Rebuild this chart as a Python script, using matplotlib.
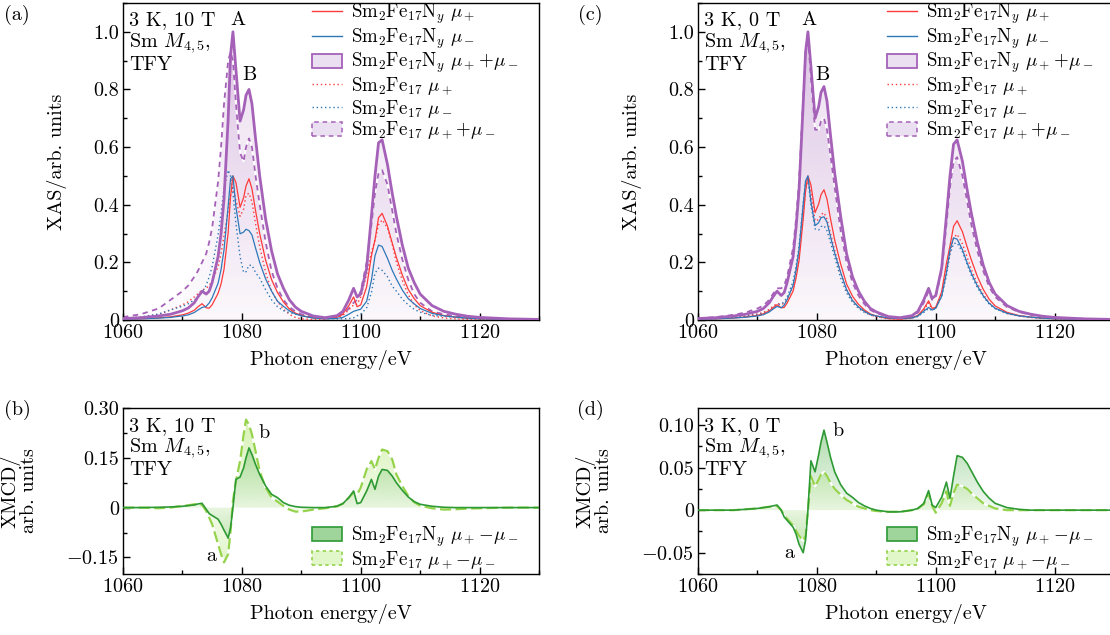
import matplotlib

matplotlib.use("Agg")
import matplotlib.pyplot as plt
import numpy as np
from matplotlib.colors import to_rgb
from matplotlib.lines import Line2D
from matplotlib.patches import Patch, PathPatch
from matplotlib.ticker import MultipleLocator

FS = 14.5     # axes text
LFS = 13.6    # legend text
plt.rcParams.update({
    "font.family": "serif",
    "font.serif": ["cmr10"],
    "mathtext.fontset": "cm",
    "axes.unicode_minus": False,
    "axes.formatter.use_mathtext": True,
    "font.size": FS,
})

# photon energy grid (eV), shared by every curve
energy = [1060, 1063, 1066, 1068, 1070, 1071, 1072, 1072.6, 1073.3, 1074,
          1074.5, 1075, 1076, 1076.5, 1077, 1077.7, 1078.1, 1078.5, 1079, 1079.7,
          1080.3, 1080.7, 1081.2, 1081.7, 1082.3, 1083, 1084, 1085, 1086, 1087,
          1088, 1089, 1090, 1092, 1094, 1096, 1097, 1098, 1098.8, 1099.4,
          1100, 1101, 1101.8, 1102.4, 1103, 1103.6, 1104.5, 1105.3, 1106, 1107,
          1108, 1109, 1110, 1112, 1114, 1116, 1118, 1120, 1125, 1130]

# (a) 3 K, 10 T: XAS mu+ + mu-
sum_n_10t = [.005, .008, .014, .02, .032, .042, .06, .08, .10, .09,
             .10, .13, .22, .30, .42, .70, .92, 1.0, .87, .69,
             .73, .78, .80, .75, .63, .50, .35, .24, .16, .11,
             .07, .045, .03, .014, .008, .015, .03, .07, .11, .08,
             .09, .18, .36, .50, .615, .625, .54, .44, .36, .26,
             .18, .13, .09, .05, .03, .02, .013, .009, .004, .002]
sum_0_10t = [.01, .02, .04, .07, .10, .12, .15, .17, .20, .23,
             .27, .32, .48, .60, .75, .90, .93, .90, .75, .58,
             .55, .60, .63, .60, .50, .40, .27, .17, .11, .07,
             .045, .03, .02, .01, .008, .012, .02, .04, .06, .07,
             .10, .20, .33, .44, .51, .52, .47, .38, .30, .21,
             .14, .09, .06, .03, .02, .013, .008, .006, .003, .002]

# (b) 3 K, 10 T: XMCD mu+ - mu-
xmcd_n_10t = [0, 0, .001, .002, .004, .006, .008, .011, .013, -.005,
              -.018, -.024, -.035, -.05, -.068, -.092, -.06, 0, .085, .092,
              .12, .15, .18, .16, .13, .10, .065, .04, .03, .015,
              .007, .003, .001, 0, 0, .004, .012, .03, .05, .012,
              .015, .05, .085, .055, .095, .115, .112, .095, .075, .052,
              .032, .018, .01, .004, .001, 0, 0, 0, 0, 0]
xmcd_0_10t = [0, 0, -.002, 0, .005, .007, .01, .012, .008, -.01,
              -.03, -.05, -.11, -.14, -.165, -.14, -.07, .02, .08, .14,
              .22, .265, .25, .22, .17, .11, .06, .03, .018, .005,
              -.006, -.012, -.012, -.006, -.002, .004, .012, .03, .045, .04,
              .06, .115, .14, .115, .15, .175, .17, .145, .10, .065,
              .035, .016, .006, -.002, -.006, -.005, -.003, -.002, 0, 0]

# (c) 3 K, 0 T: XAS mu+ + mu-
sum_n_0t = [.005, .008, .014, .02, .03, .04, .06, .08, .10, .085,
            .095, .13, .22, .32, .45, .75, .93, 1.0, .88, .70,
            .74, .79, .81, .76, .64, .51, .36, .23, .15, .10,
            .065, .04, .028, .012, .008, .015, .03, .07, .11, .075,
            .085, .18, .36, .50, .61, .625, .55, .45, .37, .27,
            .19, .13, .09, .05, .03, .02, .013, .009, .004, .002]
sum_0_0t = [.006, .01, .018, .026, .04, .05, .07, .09, .11, .11,
            .12, .15, .25, .35, .48, .77, .93, .98, .84, .66,
            .66, .69, .70, .66, .57, .46, .31, .20, .13, .085,
            .055, .035, .024, .011, .007, .013, .026, .06, .10, .07,
            .08, .17, .33, .46, .55, .565, .50, .41, .33, .24,
            .17, .115, .08, .045, .028, .018, .012, .008, .004, .002]

# (d) 3 K, 0 T: XMCD mu+ - mu-
xmcd_n_0t = [0, 0, 0, .001, .002, .003, .004, .005, .006, 0,
             -.008, -.012, -.02, -.028, -.04, -.05, -.035, 0, .058, .045,
             .065, .08, .094, .08, .062, .045, .03, .02, .015, .009,
             .005, .002, 0, -.002, -.002, 0, .002, .008, .023, .006,
             .003, .015, .033, .014, .04, .064, .062, .055, .046, .033,
             .022, .014, .008, .003, .001, 0, 0, 0, 0, 0]
xmcd_0_0t = [0, 0, 0, .001, .002, .003, .004, .004, .005, 0,
             -.006, -.01, -.018, -.024, -.03, -.036, -.03, 0, .04, .028,
             .036, .042, .045, .04, .032, .025, .018, .012, .008, .004,
             .002, 0, -.001, -.002, -.002, 0, .002, .007, .02, .005,
             -.003, .008, .022, .005, .02, .03, .028, .025, .02, .014,
             .008, .005, .002, 0, 0, 0, 0, 0, 0, 0]

RED = "#ff3a3a"
BLUE = "#2f78b8"
PURPLE = "#a561b8"
LAVENDER = "#ebe0f1"
GREEN = "#2e9a34"
LGREEN = "#94d34a"

W, H = 1110, 635


def box(x0, y0, x1, y1):
    # pixel box -> figure fraction [left, bottom, width, height]
    return [x0 / W, 1 - y1 / H, (x1 - x0) / W, (y1 - y0) / H]


def gradient_fill(ax, x, y, color, a_max, a_min, ylim, z):
    r, g, b = to_rgb(color)
    lo, hi = ylim
    ys = np.linspace(lo, hi, 300)
    peak = max(abs(lo), abs(hi))
    img = np.zeros((300, 1, 4))
    img[:, 0, 0], img[:, 0, 1], img[:, 0, 2] = r, g, b
    img[:, 0, 3] = a_min + (a_max - a_min) * np.clip(np.abs(ys) / peak, 0, 1)
    im = ax.imshow(img, extent=[x[0], x[-1], lo, hi], origin="lower",
                   aspect="auto", interpolation="bilinear", zorder=z)
    poly = ax.fill_between(x, y, 0, facecolor="none", edgecolor="none")
    clip = PathPatch(poly.get_paths()[0], transform=ax.transData,
                     facecolor="none", edgecolor="none")
    ax.add_patch(clip)
    im.set_clip_path(clip)


def style_axes(ax, ylim, yticks, ylabels, minor):
    ax.set_xlim(1060, 1130)
    ax.set_ylim(*ylim)
    ax.set_xticks([1060, 1080, 1100, 1120])
    ax.xaxis.set_minor_locator(MultipleLocator(10))
    ax.set_yticks(yticks, ylabels)
    ax.yaxis.set_minor_locator(MultipleLocator(minor))
    ax.tick_params(which="both", direction="in", top=False, right=False,
                   width=1.0, labelsize=FS, pad=3)
    ax.tick_params(which="major", length=5)
    ax.tick_params(which="minor", length=3)
    for s in ax.spines.values():
        s.set_linewidth(1.0)
    ax.set_xlabel("Photon energy/eV", labelpad=6)


def legend(ax, handles, labels, anchor):
    ax.legend(handles, labels, loc="upper left", bbox_to_anchor=anchor,
              frameon=False, handlelength=1.6, handleheight=0.75,
              handletextpad=0.45, labelspacing=0.02, borderpad=0.15,
              borderaxespad=0, fontsize=LFS)


def xas_panel(ax, sum_n, sum_0, xm_n, xm_0, title, peak_labels):
    e = np.array(energy)
    sn, s0 = np.array(sum_n), np.array(sum_0)
    xn, x0 = np.array(xm_n), np.array(xm_0)
    ylim = (0, 1.1)
    gradient_fill(ax, e, s0, PURPLE, 0.22, 0.02, ylim, 1)
    gradient_fill(ax, e, sn, PURPLE, 0.22, 0.02, ylim, 1.1)
    # Sm2Fe17 curves (dotted / dashed)
    ax.plot(e, s0, color="white", lw=1.3, zorder=2)
    ax.plot(e, s0, color=PURPLE, lw=1.3, dashes=(3, 2.5), zorder=2.1)
    ax.plot(e, (s0 + x0) / 2, color=RED, lw=1.0, ls=(0, (1, 2)), zorder=3)
    ax.plot(e, (s0 - x0) / 2, color=BLUE, lw=1.0, ls=(0, (1, 2)), zorder=3)
    # Sm2Fe17Ny curves (solid)
    ax.plot(e, (sn + xn) / 2, color=RED, lw=0.9, zorder=3.2)
    ax.plot(e, (sn - xn) / 2, color=BLUE, lw=0.9, zorder=3.2)
    ax.plot(e, sn, color=PURPLE, lw=2.0, zorder=4)

    style_axes(ax, ylim, [0, .2, .4, .6, .8, 1.0],
               ["0", "0.2", "0.4", "0.6", "0.8", "1.0"], 0.1)
    ax.set_ylabel("XAS/arb. units")
    ax.yaxis.set_label_coords(-0.135, 0.5)
    ax.text(0.015, 0.975, title + "\nSm $M_{4,5}$,\nTFY", transform=ax.transAxes,
            va="top", ha="left", linespacing=1.12)
    for lab, x, y in peak_labels:
        ax.text(x, y, lab, ha="center", va="bottom")

    handles = [
        Line2D([], [], color=RED, lw=1.0),
        Line2D([], [], color=BLUE, lw=1.0),
        Patch(facecolor=LAVENDER, edgecolor=PURPLE, lw=1.3),
        Line2D([], [], color=RED, lw=1.0, ls=(0, (1, 2))),
        Line2D([], [], color=BLUE, lw=1.0, ls=(0, (1, 2))),
        Patch(facecolor=LAVENDER, edgecolor=PURPLE, lw=1.1, ls=(0, (3, 2.5))),
    ]
    labels = [
        r"$\mathrm{Sm_2Fe_{17}N}_y\ \mu_+$",
        r"$\mathrm{Sm_2Fe_{17}N}_y\ \mu_-$",
        r"$\mathrm{Sm_2Fe_{17}N}_y\ \mu_+\!+\!\mu_-$",
        r"$\mathrm{Sm_2Fe_{17}}\ \mu_+$",
        r"$\mathrm{Sm_2Fe_{17}}\ \mu_-$",
        r"$\mathrm{Sm_2Fe_{17}}\ \mu_+\!+\!\mu_-$",
    ]
    legend(ax, handles, labels, (0.447, 1.014))


def xmcd_panel(ax, xm_n, xm_0, title, ylim, yticks, ylabels, minor, a_pos, b_pos):
    e = np.array(energy)
    xn, x0 = np.array(xm_n), np.array(xm_0)
    gradient_fill(ax, e, x0, "#c9ee9a", 0.8, 0.2, ylim, 1)
    gradient_fill(ax, e, xn, "#5fb85a", 0.6, 0.08, ylim, 1.1)
    ax.plot(e, x0, color="white", lw=1.6, zorder=2)
    ax.plot(e, x0, color=LGREEN, lw=1.6, dashes=(5, 2), zorder=2.1)
    ax.plot(e, xn, color=GREEN, lw=1.2, zorder=3)

    style_axes(ax, ylim, yticks, ylabels, minor)
    ax.set_ylabel("XMCD/\narb. units", linespacing=0.95)
    ax.yaxis.set_label_coords(-0.205, 0.5)
    ax.text(0.015, 0.945, title + "\nSm $M_{4,5}$,\nTFY", transform=ax.transAxes,
            va="top", ha="left", linespacing=1.08)
    ax.text(*a_pos, "a", ha="center", va="center")
    ax.text(*b_pos, "b", ha="center", va="center")

    handles = [
        Patch(facecolor="#9fd49b", edgecolor=GREEN, lw=1.2),
        Patch(facecolor="#e2f7c9", edgecolor=LGREEN, lw=1.2, ls=(0, (2, 2))),
    ]
    labels = [
        r"$\mathrm{Sm_2Fe_{17}N}_y\ \mu_+\!-\!\mu_-$",
        r"$\mathrm{Sm_2Fe_{17}}\ \mu_+\!-\!\mu_-$",
    ]
    legend(ax, handles, labels, (0.447, 0.315))


fig = plt.figure(figsize=(W / 100, H / 100), dpi=100)
ax_a = fig.add_axes(box(123, 3, 539, 320))
ax_b = fig.add_axes(box(123, 408, 539, 574))
ax_c = fig.add_axes(box(698, 3, 1114, 320))
ax_d = fig.add_axes(box(698, 408, 1114, 574))

xas_panel(ax_a, sum_n_10t, sum_0_10t, xmcd_n_10t, xmcd_0_10t, "3 K, 10 T",
          [("A", 1079.4, 1.01), ("B", 1081.3, 0.82)])
xas_panel(ax_c, sum_n_0t, sum_0_0t, xmcd_n_0t, xmcd_0_0t, "3 K, 0 T",
          [("A", 1078.6, 1.01), ("B", 1081.0, 0.82)])
xmcd_panel(ax_b, xmcd_n_10t, xmcd_0_10t, "3 K, 10 T", (-0.2, 0.3),
           [-0.15, 0, 0.15, 0.30], ["$-$0.15", "0", "0.15", "0.30"], 0.075,
           (1074.8, -0.145), (1083.8, 0.225))
xmcd_panel(ax_d, xmcd_n_0t, xmcd_0_0t, "3 K, 0 T", (-0.075, 0.12),
           [-0.05, 0, 0.05, 0.10], ["$-$0.05", "0", "0.05", "0.10"], 0.025,
           (1075.3, -0.05), (1083.6, 0.093))

for lab, x, y in [("(a)", 17, 15), ("(b)", 17, 410), ("(c)", 590, 15), ("(d)", 590, 410)]:
    fig.text(x / W, 1 - y / H, lab, ha="center", va="center")

fig.savefig("out.png", dpi=100)
